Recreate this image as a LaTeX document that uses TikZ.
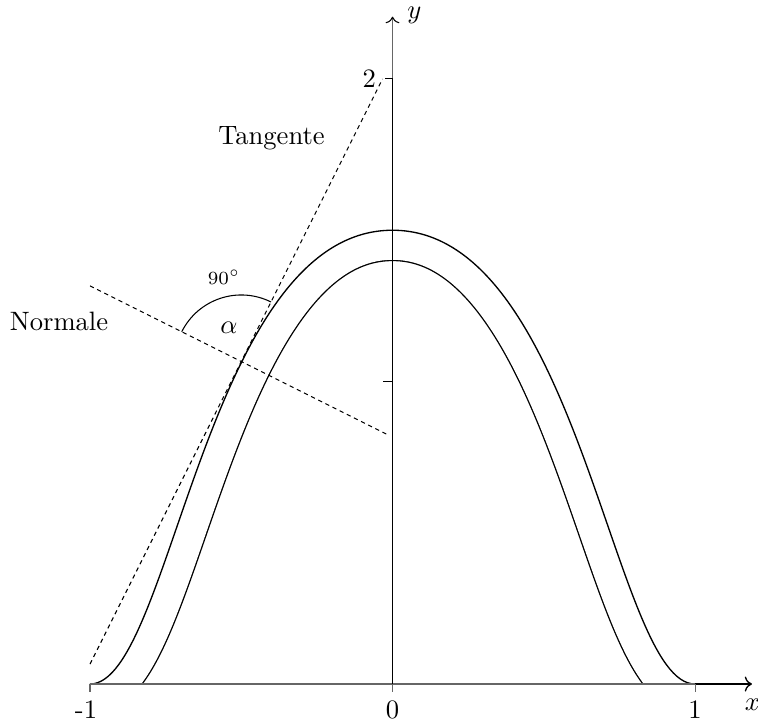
\documentclass[tikz,border=0pt]{standalone}
\usepackage{tikz}
\usetikzlibrary{arrows.meta}

\begin{document}
\begin{tikzpicture}[x=4cm, y=4cm, >={Computer Modern Rightarrow[black]},
  axis/.style={black!60},
  guide/.style={dash pattern=on 1.6pt off 1.4pt},
  bell/.style={line width=0.5pt}]
  \useasboundingbox (-1.2975,-0.1355) rectangle (1.208,2.261);

  \path[save path=\bellpath] (-1,0) .. controls (-0.73,0) and (-0.62,1.5) .. (0,1.5)
    .. controls (0.62,1.5) and (0.73,0) .. (1,0);
  \coordinate (P) at (-0.5,1.066);

  % inner curve, 0.1 inside the outer one
  \begin{scope}
    \clip[use path=\bellpath];
    \draw[line width=0.8cm+0.5pt, use path=\bellpath];
    \draw[white, line width=0.8cm-0.5pt, use path=\bellpath];
  \end{scope}
  \draw[bell, use path=\bellpath];

  % axes
  \draw[axis] (-1,0) -- (1,0);
  \draw[bell, ->] (1,0) -- (1.188,0);
  \draw (0,0) -- (0,2);
  \draw[axis, ->] (0,2) -- (0,2.206);
  \foreach \x in {-1,0,1}
    \draw[axis] (\x,0) -- (\x,-0.026);
  \draw (0,1) -- (-0.03,1);
  \draw (0,2) -- (-0.024,2);

  \node (lm) at (-1,-0.026) [below, xshift=-1.5pt] {-1};
  \node (l0) at (0,-0.026) [below] {0};
  \node (l1) at (1,-0.026) [below] {1};
  \node (l2) at (-0.024,2) [left] {2};
  \node (lx) at (1.19,-0.068) {$x$};
  \node (ly) at (0.072,2.21) {$y$};

  % tangent and normal
  \coordinate (t1) at (-1,0.066);
  \coordinate (t2) at (-0.033,2);
  \coordinate (n1) at (-1,1.316);
  \coordinate (n2) at (-0.01,0.821);
  \draw[guide] (t1) -- (t2);
  \draw[guide] (n1) -- (n2);
  \draw (P) ++(63.43:0.22) arc[start angle=63.43, end angle=153.43, radius=0.22];

  \node (tang) at (-0.4,1.805) {Tangente};
  \node (norm) at (-1.1025,1.197) {Normale};
  \node (alpha) at (-0.541,1.178) {$\alpha$};
  \node (right) at (-0.557,1.344) {\scriptsize $90^\circ$};
\end{tikzpicture}
\end{document}
